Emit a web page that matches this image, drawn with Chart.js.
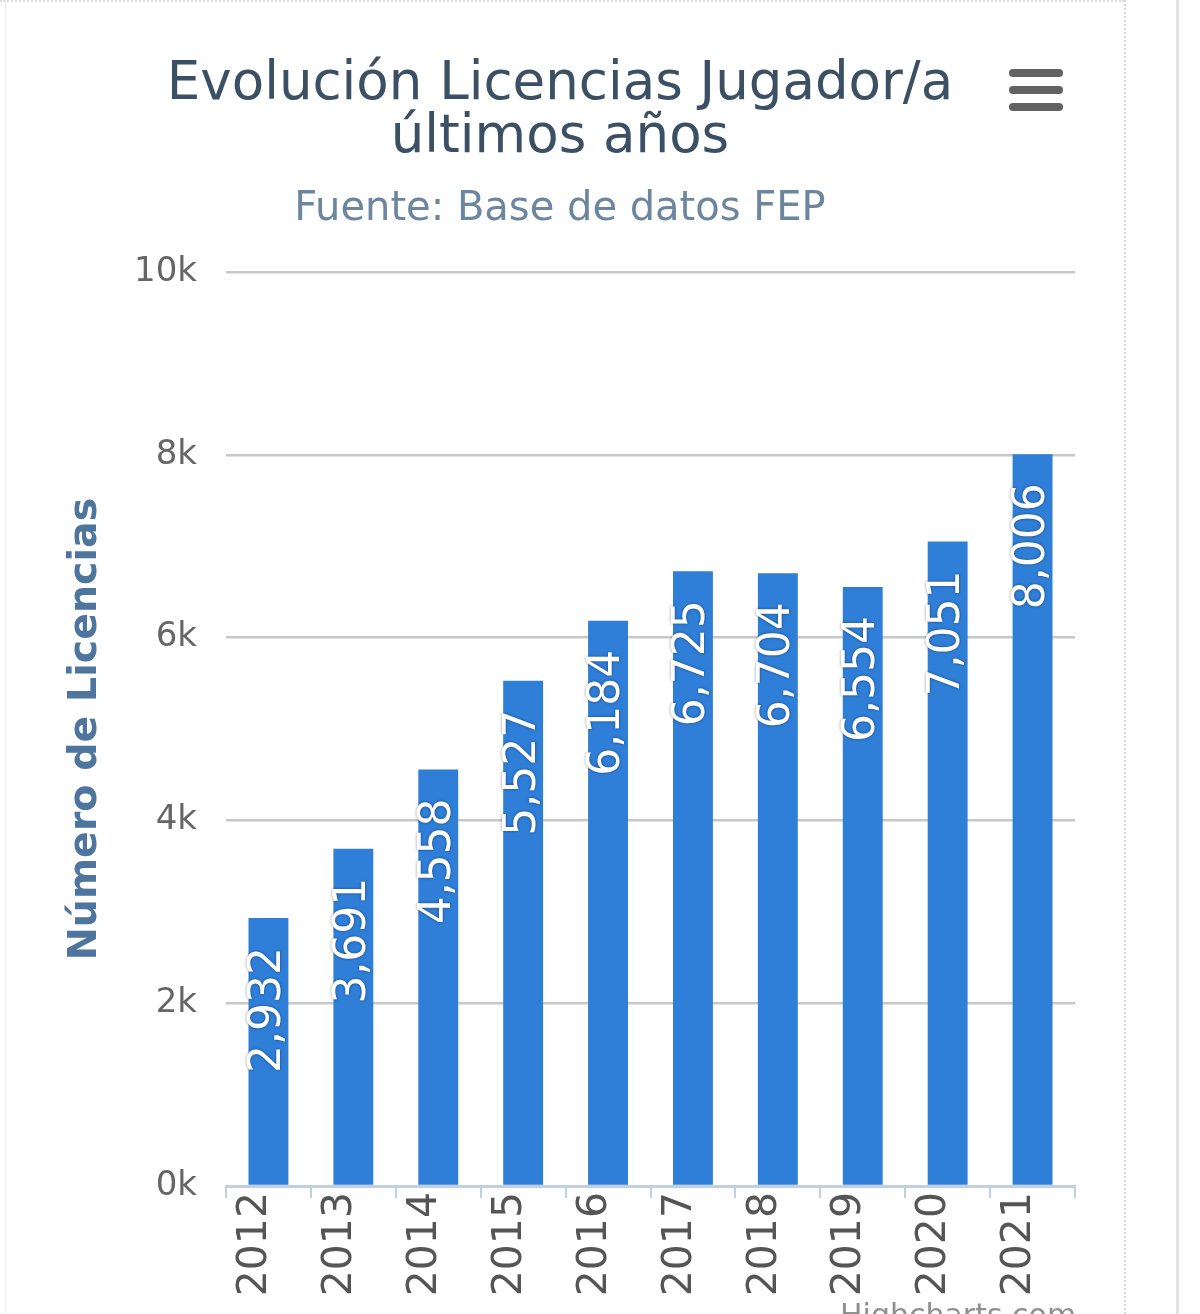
<!DOCTYPE html>
<html>
<head>
<meta charset="utf-8">
<script src="https://cdn.jsdelivr.net/npm/chart.js@4"></script>
<style>
  html, body { margin: 0; padding: 0; background: #fff; overflow: hidden; }
  #wrap { position: relative; width: 1200px; height: 1314px; }
  #menu { position: absolute; left: 1009px; top: 69px; width: 54px; }
  #menu div { height: 8px; border-radius: 4px; background: #626262; margin-bottom: 9px; }
  #edge1 { position: absolute; left: 1124px; top: 0; width: 0; height: 1314px; border-left: 2px dotted #d8d8d8; }
  #edge2 { position: absolute; left: 1176px; top: 0; width: 3px; height: 1314px; background: #e2e2e2; }
  #edgeTop { position: absolute; left: 0; top: 0; width: 1124px; height: 0; border-top: 2px dotted #dcdcdc; }
  #edgeLeft { position: absolute; left: 5px; top: 0; width: 1px; height: 1314px; background: #f0f0f0; }
  #credit { position: absolute; left: 840px; top: 1297px; font: 30px "DejaVu Sans", sans-serif; color: #909090; }
</style>
</head>
<body>
<div id="wrap">
  <canvas id="chart" width="1200" height="1314"></canvas>
  <div id="edgeTop"></div>
  <div id="edgeLeft"></div>
  <div id="edge1"></div>
  <div id="edge2"></div>
  <div id="menu"><div></div><div></div><div></div></div>
  <div id="credit">Highcharts.com</div>
</div>
<script>
// Licencias por año
const years = ['2012', '2013', '2014', '2015', '2016', '2017', '2018', '2019', '2020', '2021'];
const licencias = [2932, 3691, 4558, 5527, 6184, 6725, 6704, 6554, 7051, 8006];
const yTicks = [0, 2000, 4000, 6000, 8000, 10000];

const FONT = '"DejaVu Sans", Verdana, sans-serif';

// White rotated value labels inside each bar
const barLabels = {
  id: 'barLabels',
  afterDatasetsDraw(chart) {
    const ctx = chart.ctx;
    const meta = chart.getDatasetMeta(0);
    ctx.save();
    ctx.font = '44px ' + FONT;
    ctx.fillStyle = '#ffffff';
    ctx.textAlign = 'right';
    ctx.textBaseline = 'middle';
    ctx.shadowColor = 'rgba(0,0,0,0.45)';
    ctx.shadowBlur = 3;
    meta.data.forEach((bar, i) => {
      ctx.save();
      ctx.translate(bar.x, bar.y + 29);
      ctx.rotate(-Math.PI / 2);
      ctx.fillText(licencias[i].toLocaleString('en-US'), 0, 0);
      ctx.restore();
    });
    ctx.restore();
  }
};

new Chart(document.getElementById('chart'), {
  type: 'bar',
  data: {
    labels: years,
    datasets: [{
      label: 'Licencias',
      data: licencias,
      backgroundColor: '#2f7ed8',
      borderWidth: 0,
      barPercentage: 0.47,
      categoryPercentage: 1
    }]
  },
  options: {
    responsive: false,
    animation: false,
    layout: { padding: { left: 45, right: 125, top: 0, bottom: 0 } },
    scales: {
      x: {
        afterFit(scale) { scale.height = 128; },
        grid: {
          drawOnChartArea: false,
          drawTicks: true,
          tickLength: 12,
          color: '#c0d0e0',
          lineWidth: 2
        },
        border: { display: true, color: '#c0d0e0', width: 3 },
        ticks: {
          minRotation: 90,
          maxRotation: 90,
          padding: -6,
          labelOffset: -13,
          color: '#555555',
          font: { family: FONT, size: 41 }
        }
      },
      y: {
        min: 0,
        max: 10000,
        afterFit(scale) { scale.width = 181; },
        afterBuildTicks(scale) { scale.ticks = yTicks.map(v => ({ value: v })); },
        grid: { color: '#c8c8c8', lineWidth: 2.5, drawTicks: false },
        border: { display: false },
        ticks: {
          padding: 29,
          color: '#666666',
          font: { family: FONT, size: 34 },
          callback: v => (v / 1000) + 'k'
        },
        title: {
          display: true,
          text: 'Número de Licencias',
          color: '#4d759e',
          font: { family: FONT, size: 39.5, weight: 'bold' },
          padding: { top: 17, bottom: 0 }
        }
      }
    },
    plugins: {
      legend: { display: false },
      tooltip: { enabled: false },
      title: {
        display: true,
        text: ['Evolución Licencias Jugador/a', 'últimos años'],
        color: '#3b5064',
        font: { family: FONT, size: 53, weight: 'normal', lineHeight: 1.0 },
        padding: { top: 59, bottom: 10 }
      },
      subtitle: {
        display: true,
        text: 'Fuente: Base de datos FEP',
        color: '#6d869f',
        font: { family: FONT, size: 40, lineHeight: 1.2 },
        padding: { top: 11, bottom: 38 }
      }
    }
  },
  plugins: [barLabels]
});
</script>
</body>
</html>
